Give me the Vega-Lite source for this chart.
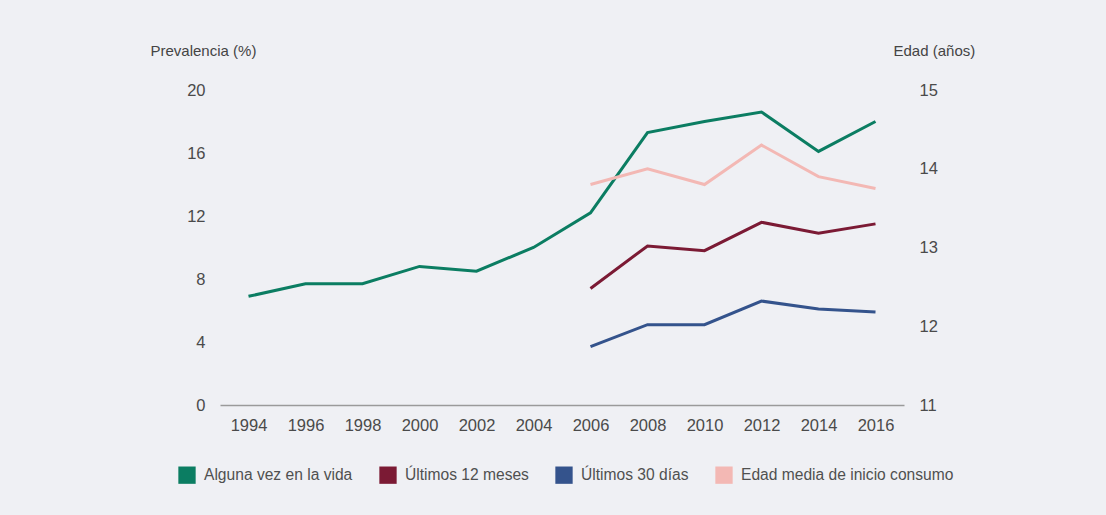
{
  "$schema": "https://vega.github.io/schema/vega-lite/v6.json",
  "width": 684,
  "height": 315,
  "autosize": {"type": "none"},
  "padding": {"left": 220, "top": 90, "right": 202, "bottom": 110},
  "background": "#eff0f4",
  "config": {
    "view": {"stroke": null},
    "font": "Liberation Sans",
    "axis": {"labelFont": "Liberation Sans", "titleFont": "Liberation Sans", "labelColor": "#4a4a4a", "titleColor": "#444444", "labelFontSize": 16.5, "titleFontSize": 15, "titleFontWeight": "normal", "grid": false, "ticks": false},
    "legend": {"labelFont": "Liberation Sans", "labelFontSize": 15.6, "labelColor": "#505050", "labelLimit": 400}
  },
  "data": {
    "values": [
      {"anio": "1994", "serie": "Alguna vez en la vida", "valor": 6.9},
      {"anio": "1996", "serie": "Alguna vez en la vida", "valor": 7.7},
      {"anio": "1998", "serie": "Alguna vez en la vida", "valor": 7.7},
      {"anio": "2000", "serie": "Alguna vez en la vida", "valor": 8.8},
      {"anio": "2002", "serie": "Alguna vez en la vida", "valor": 8.5},
      {"anio": "2004", "serie": "Alguna vez en la vida", "valor": 10.0},
      {"anio": "2006", "serie": "Alguna vez en la vida", "valor": 12.2},
      {"anio": "2008", "serie": "Alguna vez en la vida", "valor": 17.3},
      {"anio": "2010", "serie": "Alguna vez en la vida", "valor": 18.0},
      {"anio": "2012", "serie": "Alguna vez en la vida", "valor": 18.6},
      {"anio": "2014", "serie": "Alguna vez en la vida", "valor": 16.1},
      {"anio": "2016", "serie": "Alguna vez en la vida", "valor": 18.0},
      {"anio": "2006", "serie": "Últimos 12 meses", "valor": 7.4},
      {"anio": "2008", "serie": "Últimos 12 meses", "valor": 10.1},
      {"anio": "2010", "serie": "Últimos 12 meses", "valor": 9.8},
      {"anio": "2012", "serie": "Últimos 12 meses", "valor": 11.6},
      {"anio": "2014", "serie": "Últimos 12 meses", "valor": 10.9},
      {"anio": "2016", "serie": "Últimos 12 meses", "valor": 11.5},
      {"anio": "2006", "serie": "Últimos 30 días", "valor": 3.7},
      {"anio": "2008", "serie": "Últimos 30 días", "valor": 5.1},
      {"anio": "2010", "serie": "Últimos 30 días", "valor": 5.1},
      {"anio": "2012", "serie": "Últimos 30 días", "valor": 6.6},
      {"anio": "2014", "serie": "Últimos 30 días", "valor": 6.1},
      {"anio": "2016", "serie": "Últimos 30 días", "valor": 5.9},
      {"anio": "2006", "serie": "Edad media de inicio consumo", "valor": 13.8},
      {"anio": "2008", "serie": "Edad media de inicio consumo", "valor": 14.0},
      {"anio": "2010", "serie": "Edad media de inicio consumo", "valor": 13.8},
      {"anio": "2012", "serie": "Edad media de inicio consumo", "valor": 14.3},
      {"anio": "2014", "serie": "Edad media de inicio consumo", "valor": 13.9},
      {"anio": "2016", "serie": "Edad media de inicio consumo", "valor": 13.75}
    ]
  },
  "encoding": {
    "x": {
      "field": "anio", "type": "ordinal",
      "scale": {"type": "point", "padding": 0.5},
      "axis": {"title": null, "labelAngle": 0, "labelPadding": 12, "domainColor": "#9a9a9a", "domainWidth": 1.5}
    },
    "color": {
      "field": "serie", "type": "nominal",
      "scale": {
        "domain": ["Alguna vez en la vida", "Últimos 12 meses", "Últimos 30 días", "Edad media de inicio consumo"],
        "range": ["#0b7d62", "#7b1a34", "#34538c", "#f3b8b4"]
      },
      "legend": {
        "title": null, "orient": "none", "direction": "horizontal",
        "legendX": -42, "legendY": 376,
        "symbolType": "square", "symbolSize": 300,
        "labelOffset": 8, "columnPadding": 26,
        "encode": {
          "symbols": {
            "update": {
              "fill": {"scale": "color", "field": "value"},
              "fillOpacity": {"value": 1},
              "strokeWidth": {"value": 0}
            }
          }
        }
      }
    }
  },
  "layer": [
    {
      "transform": [{"filter": "datum.serie !== 'Edad media de inicio consumo'"}],
      "mark": {"type": "line", "strokeWidth": 3},
      "encoding": {
        "y": {
          "field": "valor", "type": "quantitative",
          "scale": {"domain": [0, 20]},
          "axis": {"values": [0, 4, 8, 12, 16, 20], "domain": false, "labelPadding": 15, "title": "Prevalencia (%)", "titleAngle": 0, "titleAlign": "left", "titleBaseline": "middle", "titleX": -70, "titleY": -40}
        }
      }
    },
    {
      "transform": [{"filter": "datum.serie === 'Edad media de inicio consumo'"}],
      "mark": {"type": "line", "strokeWidth": 3},
      "encoding": {
        "y": {
          "field": "valor", "type": "quantitative",
          "scale": {"domain": [11, 15]},
          "axis": {"orient": "right", "values": [11, 12, 13, 14, 15], "domain": false, "labelPadding": 15, "title": "Edad (años)", "titleAngle": 0, "titleAlign": "left", "titleBaseline": "middle", "titleX": -11, "titleY": -40}
        }
      }
    }
  ],
  "resolve": {"scale": {"y": "independent"}}
}
